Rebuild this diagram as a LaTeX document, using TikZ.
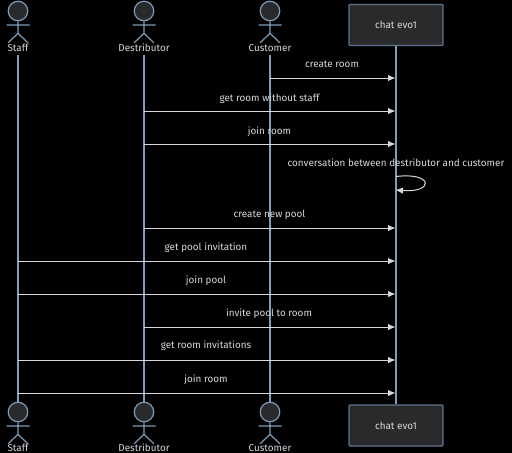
\documentclass[tikz,border=0pt]{standalone}
\usepackage{fontspec}
\setmainfont{Fira Sans}
\usetikzlibrary{arrows.meta,positioning,calc}
\definecolor{Ground}{HTML}{000000}
\definecolor{Stroke}{HTML}{7F9DBA}
\definecolor{Frame}{HTML}{5C7690}
\definecolor{Shade}{HTML}{282A2B}
\definecolor{Ink}{HTML}{D8D8D8}
\tikzstyle{Head} = [draw=Stroke, fill=Shade, shape=circle, line width=1.2pt, minimum size=19.5pt, inner sep=0pt]
\tikzstyle{Limb} = [draw=Stroke, line width=1.2pt]
\tikzstyle{Name} = [text=Ink, inner sep=0pt, text height=7pt, text depth=2pt, font=\fontsize{9.9}{11}\selectfont]
\tikzstyle{Chat} = [draw=Frame, fill=Shade, shape=rectangle, rounded corners=1pt, line width=1.2pt, minimum width=94pt, minimum height=41pt, text=Ink, font=\fontsize{9.9}{11}\selectfont]
\tikzstyle{Lifeline} = [draw=Stroke, line width=1.3pt]
\tikzstyle{Message} = [text=Ink, inner sep=0pt, text height=7pt, text depth=2pt, font=\fontsize{9.9}{11}\selectfont]
\tikzstyle{Arrow} = [-{Latex[length=7.5pt,width=6.5pt]}, draw=Ink, fill=none, color=Ink, line width=1pt]

\begin{document}
\begin{tikzpicture}[x=1pt,y=1pt]
        \useasboundingbox (0,0) rectangle (512,-453);
        \fill[Ground] (0,0) rectangle (512,-453);

        %%%%% Top Row %%%%%

        \draw node[Head] at (18,-11) (StaffTop){};
        \draw node[Head] at ($(StaffTop)+(126,0)$) (DestTop){};
        \draw node[Head] at ($(DestTop)+(126,0)$) (CustTop){};
        \draw node[Chat] at (396,-25) (ChatTop){chat evo1};
        \draw node[Name] at ($(StaffTop)+(0,-38)$) (StaffName){Staff};
        \draw node[Name] at ($(DestTop)+(0,-38)$) (DestName){Destributor};
        \draw node[Name] at ($(CustTop)+(0,-38)$) (CustName){Customer};

        %%%%% Bottom Row %%%%%

        \draw node[Head] at ($(StaffTop)+(0,-401)$) (StaffBot){};
        \draw node[Head] at ($(DestTop)+(0,-401)$) (DestBot){};
        \draw node[Head] at ($(CustTop)+(0,-401)$) (CustBot){};
        \draw node[Chat] at ($(ChatTop)+(0,-400.5)$) (ChatBot){chat evo1};
        \draw node[Name] at ($(StaffBot)+(0,-36.5)$) (StaffLow){Staff};
        \draw node[Name] at ($(DestBot)+(0,-36.5)$) (DestLow){Destributor};
        \draw node[Name] at ($(CustBot)+(0,-36.5)$) (CustLow){Customer};

        %%%%% Lifelines %%%%%

        \draw [Lifeline] (18,-55) -- (StaffBot.north);
        \draw [Lifeline] (144,-55) -- (DestBot.north);
        \draw [Lifeline] (270,-55) -- (CustBot.north);
        \draw [Lifeline] (ChatTop.south) -- (ChatBot.north);

        %%%%% Limbs %%%%%

        \draw [Limb] (StaffTop.south) -- ++(0,-12) -- ++(-10,-9.5) ++(10,9.5) -- ++(10,-9.5) (6.5,-25) -- (29.5,-25);
        \draw [Limb] (DestTop.south) -- ++(0,-12) -- ++(-10,-9.5) ++(10,9.5) -- ++(10,-9.5) (132.5,-25) -- (155.5,-25);
        \draw [Limb] (CustTop.south) -- ++(0,-12) -- ++(-10,-9.5) ++(10,9.5) -- ++(10,-9.5) (258.5,-25) -- (281.5,-25);
        \draw [Limb] (StaffBot.south) -- ++(0,-12) -- ++(-10,-9.5) ++(10,9.5) -- ++(10,-9.5) (6.5,-426) -- (29.5,-426);
        \draw [Limb] (DestBot.south) -- ++(0,-12) -- ++(-10,-9.5) ++(10,9.5) -- ++(10,-9.5) (132.5,-426) -- (155.5,-426);
        \draw [Limb] (CustBot.south) -- ++(0,-12) -- ++(-10,-9.5) ++(10,9.5) -- ++(10,-9.5) (258.5,-426) -- (281.5,-426);

        %%%%% Message Ends %%%%%

        \coordinate (A1) at (270,-78);   \coordinate (B1) at (395.5,-78);
        \coordinate (A2) at (144,-111);  \coordinate (B2) at (395.5,-111);
        \coordinate (A3) at (144,-144);  \coordinate (B3) at (395.5,-144);
        \coordinate (A4) at (396,-176.5); \coordinate (B4) at (395.5,-190);
        \coordinate (A5) at (144,-228);  \coordinate (B5) at (395.5,-228);
        \coordinate (A6) at (18,-261);   \coordinate (B6) at (395.5,-261);
        \coordinate (A7) at (18,-294);   \coordinate (B7) at (395.5,-294);
        \coordinate (A8) at (144,-327);  \coordinate (B8) at (395.5,-327);
        \coordinate (A9) at (18,-360);   \coordinate (B9) at (395.5,-360);
        \coordinate (A10) at (18,-393);  \coordinate (B10) at (395.5,-393);

        %%%%% Connecting Arrows %%%%%

        \draw [Arrow] (A1) -- (B1);
        \draw [Arrow] (A2) -- (B2);
        \draw [Arrow] (A3) -- (B3);
        \draw [Arrow] (A4) .. controls (434,-172) and (434,-193) .. (B4);
        \draw [Arrow] (A5) -- (B5);
        \draw [Arrow] (A6) -- (B6);
        \draw [Arrow] (A7) -- (B7);
        \draw [Arrow] (A8) -- (B8);
        \draw [Arrow] (A9) -- (B9);
        \draw [Arrow] (A10) -- (B10);

        %%%%% Message Labels %%%%%

        \draw node[Message] at (332,-65) (L1){create room};
        \draw node[Message] at (269.5,-98.5) (L2){get room without staff};
        \draw node[Message] at (269.5,-131.5) (L3){join room};
        \draw node[Message] at (396,-164) (L4){conversation between destributor and customer};
        \draw node[Message] at (269.5,-215) (L5){create new pool};
        \draw node[Message] at (206,-248) (L6){get pool invitation};
        \draw node[Message] at (206,-281) (L7){join pool};
        \draw node[Message] at (269,-314) (L8){invite pool to room};
        \draw node[Message] at (206,-346) (L9){get room invitations};
        \draw node[Message] at (206,-379.5) (L10){join room};

\end{tikzpicture}
\end{document}
